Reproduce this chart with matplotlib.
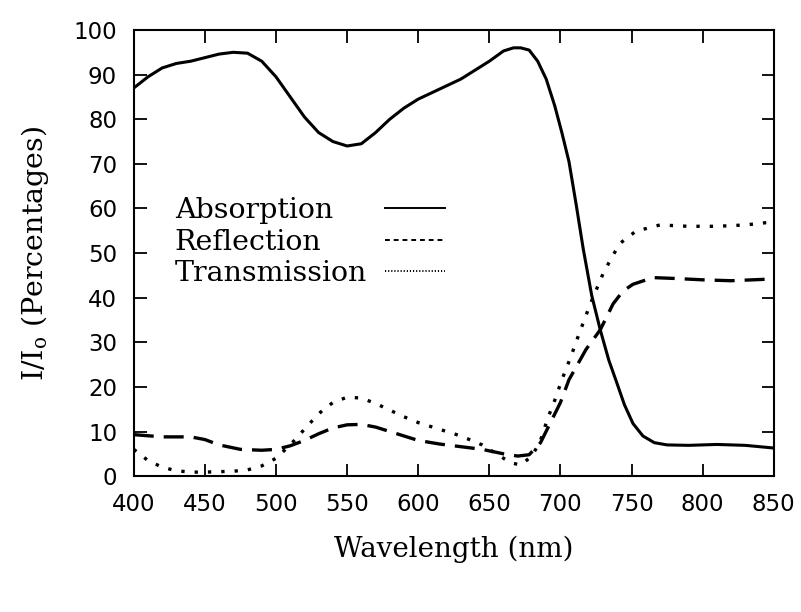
import numpy as np
import matplotlib
matplotlib.use("Agg")
from matplotlib import pyplot as plt
from matplotlib.lines import Line2D

plt.rcParams['mathtext.fontset'] = 'dejavuserif'

# absorption (solid)
wl_abs = [400, 410, 420, 430, 440, 450, 460, 470, 480, 490, 500, 510, 520, 530, 540,
          550, 560, 570, 580, 590, 600, 610, 620, 630, 640, 650, 660, 667, 672, 678,
          684, 690, 696, 701, 706, 711, 716, 722, 728, 734, 739, 745, 751, 758, 766,
          775, 790, 810, 830, 850]
absorption = [87, 89.5, 91.5, 92.5, 93, 93.8, 94.6, 95, 94.8, 93, 89.5, 85, 80.5, 77, 75,
              74, 74.5, 77, 80, 82.5, 84.5, 86, 87.5, 89, 91, 93, 95.3, 96, 96, 95.5,
              93, 89, 83, 77, 70.5, 61, 51, 40.5, 32.8, 26, 21.5, 16, 11.8, 9, 7.5,
              7, 6.9, 7.1, 6.9, 6.3]

# reflection (dashed)
wl_ref = [400, 420, 440, 450, 460, 475, 490, 500, 510, 520, 530, 540, 550, 560, 570,
          580, 590, 600, 615, 630, 645, 660, 670, 678, 686, 693, 700, 706, 712, 718,
          728, 737, 744, 751, 765, 781, 800, 820, 850]
reflection = [9.3, 8.8, 8.8, 8.2, 7, 6, 5.8, 6, 6.8, 8, 9.5, 10.8, 11.5, 11.6, 11,
              10, 9, 8, 7.2, 6.6, 6, 5, 4.5, 4.8, 7.5, 12, 16.5, 21.6, 25, 28.4,
              32.8, 38.6, 41.5, 43, 44.5, 44.3, 44, 43.8, 44.2]

# transmission (dotted)
wl_tra = [400, 410, 420, 430, 440, 450, 460, 470, 480, 490, 500, 510, 520, 530, 540,
          550, 560, 570, 580, 590, 600, 615, 630, 645, 655, 665, 672, 680, 686, 691,
          696, 701, 707, 713, 721, 730, 736, 742, 753, 770, 790, 810, 830, 850]
transmission = [6, 3.5, 2, 1.2, 0.9, 0.9, 1, 1.1, 1.4, 2.3, 4, 7, 10.5, 14, 16.5,
                17.7, 17.5, 16.3, 14.8, 13.3, 12, 10.5, 9, 7, 5, 3, 2.5, 4.5, 8, 12.9,
                17, 21.6, 26.5, 31.8, 38.6, 45.4, 49, 52.2, 54.9, 56.3, 56, 56, 56.3, 57]

labels = ['Absorption', 'Reflection', 'Transmission']
xticks = np.arange(400, 851, 50)
yticks = np.arange(0, 101, 10)

fig = plt.figure(figsize=(8.01, 6.12), dpi=100)
ax = fig.add_axes([0.167, 0.222, 0.799, 0.729])

ax.plot(wl_abs, absorption, color='black', linewidth=2.2, solid_capstyle='round')
ax.plot(wl_ref, reflection, color='black', linewidth=2.4, linestyle=(0, (6, 3)))
ax.plot(wl_tra, transmission, color='black', linewidth=2.4, linestyle=(0, (1, 3)))

ax.set_xlim(400, 850)
ax.set_ylim(0, 100)
ax.set_xticks(xticks)
ax.set_yticks(yticks)
ax.tick_params(direction='in', length=9, width=1.3, top=True, right=True,
               labelsize=16.5, pad=12)
for t in ax.get_xticklabels() + ax.get_yticklabels():
    t.set_family('DejaVu Sans')
for s in ax.spines.values():
    s.set_linewidth(1.5)

ax.set_xlabel('Wavelength (nm)', family='DejaVu Serif', fontsize=20, labelpad=14)
ax.set_ylabel('I/I$_{\\mathrm{o}}$ (Percentages)', family='DejaVu Serif', fontsize=20.5,
              labelpad=16)

# legend: labels left, sample lines lined up on the right
proxies = [Line2D([], [], color='black', linewidth=1.4),
           Line2D([], [], color='black', linewidth=1.4, linestyle=(0, (2.5, 2))),
           Line2D([], [], color='black', linewidth=1.4, linestyle=(0, (0.6, 1.0)))]
leg = ax.legend(proxies, labels, loc='upper left', bbox_to_anchor=(0.064, 0.625),
                markerfirst=False, frameon=False,
                prop={'family': 'DejaVu Serif', 'size': 20.5},
                handlelength=2.1, handletextpad=0.65, labelspacing=0.16,
                borderpad=0, borderaxespad=0)
fig.canvas.draw()
r = fig.canvas.get_renderer()
widths = [t.get_window_extent(r).width for t in leg.get_texts()]
rows = leg._legend_handle_box.get_children()[0].get_children()
for row, w in zip(rows, widths):
    row.sep += (max(widths) - w) * 72.0 / fig.dpi

fig.savefig('out.png', dpi=100)
